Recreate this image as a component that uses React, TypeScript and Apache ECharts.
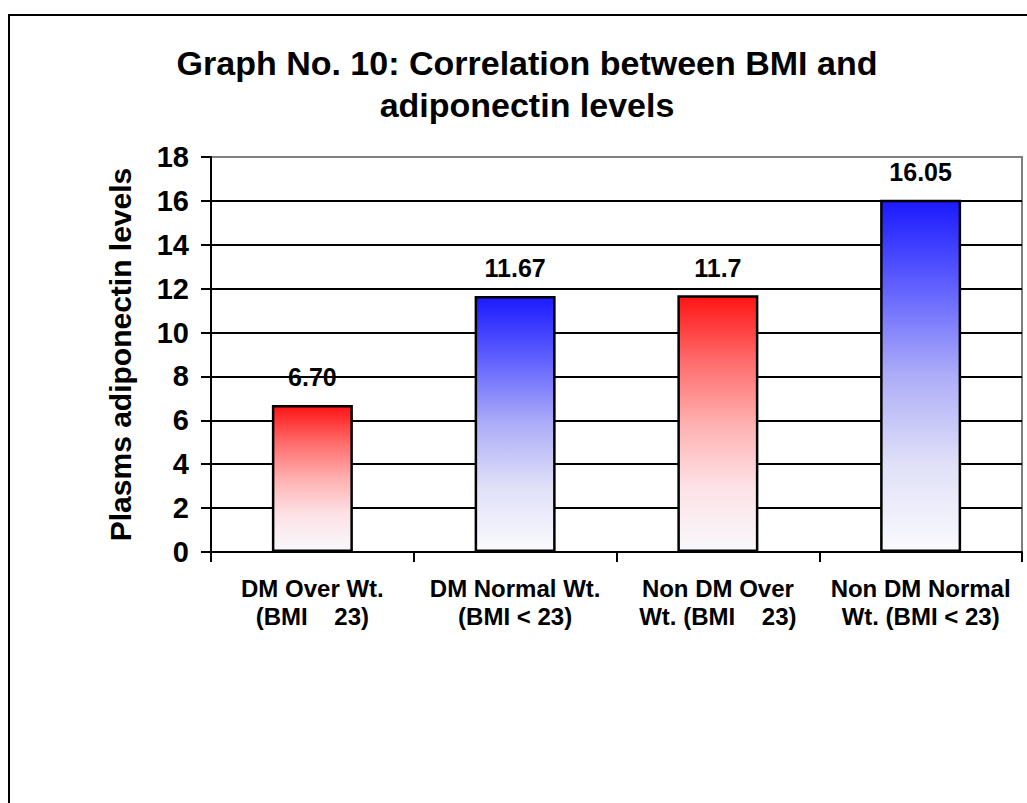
import React, { useEffect, useRef } from "react";
import * as echarts from "echarts";

const TITLE = "Graph No. 10: Correlation between BMI and\nadiponectin levels";
const Y_NAME = "Plasms adiponectin levels";
const categories = [
  "DM Over Wt.\n(BMI    23)",
  "DM Normal Wt.\n(BMI < 23)",
  "Non DM Over\nWt. (BMI    23)",
  "Non DM Normal\nWt. (BMI < 23)",
];
const values = [6.7, 11.67, 11.7, 16.05];
const valueLabels = ["6.70", "11.67", "11.7", "16.05"];
const barKinds = ["red", "blue", "red", "blue"];

const FONT = "'Liberation Sans', Arial, sans-serif";

function gradient(kind: string) {
  const stops =
    kind === "red"
      ? [
          { offset: 0, color: "#ff1414" },
          { offset: 0.25, color: "#ff6a6a" },
          { offset: 0.5, color: "#ffb0b0" },
          { offset: 0.75, color: "#fde2e6" },
          { offset: 1, color: "#f8f8fc" },
        ]
      : [
          { offset: 0, color: "#1a1aff" },
          { offset: 0.25, color: "#6262ff" },
          { offset: 0.5, color: "#adadf8" },
          { offset: 0.75, color: "#e0e0f8" },
          { offset: 1, color: "#fafafe" },
        ];
  return new echarts.graphic.LinearGradient(0, 0, 0, 1, stops);
}

export default function App() {
  const ref = useRef<HTMLDivElement>(null);
  useEffect(() => {
    if (!ref.current) return;
    const chart = echarts.init(ref.current, undefined, { renderer: "svg" });
    const splitColors = Array.from({ length: 10 }, (_, i) => (i === 9 ? "#808080" : "#000000"));
    chart.setOption({
      animation: false,
      backgroundColor: "#ffffff",
      title: {
        text: TITLE,
        left: 522,
        top: 37,
        textAlign: "center",
        textStyle: {
          fontFamily: FONT,
          fontWeight: "bold",
          fontSize: 34,
          lineHeight: 42,
          color: "#000",
        },
      },
      graphic: [
        {
          type: "rect",
          shape: { x: 9, y: 15, width: 1100, height: 1000 },
          style: { fill: "none", stroke: "#000", lineWidth: 2 },
          silent: true,
        },
      ],
      grid: {
        left: 211,
        right: 5,
        top: 157,
        bottom: 251,
        show: true,
        borderColor: "#808080",
        borderWidth: 2,
        backgroundColor: "transparent",
      },
      xAxis: {
        type: "category",
        data: categories,
        axisLine: { lineStyle: { color: "#000", width: 2 } },
        axisTick: { show: true, length: 10, lineStyle: { color: "#000", width: 2 } },
        axisLabel: {
          interval: 0,
          margin: 22,
          fontFamily: FONT,
          fontWeight: "bold",
          fontSize: 24,
          lineHeight: 28,
          color: "#000",
        },
      },
      yAxis: {
        type: "value",
        min: 0,
        max: 18,
        interval: 2,
        name: Y_NAME,
        nameLocation: "middle",
        nameGap: 76,
        nameTextStyle: {
          fontFamily: FONT,
          fontWeight: "bold",
          fontSize: 30,
          color: "#000",
        },
        axisLine: { show: true, lineStyle: { color: "#000", width: 2 } },
        axisTick: { show: true, length: 10, lineStyle: { color: "#000", width: 2 } },
        axisLabel: {
          margin: 22,
          fontFamily: FONT,
          fontWeight: "bold",
          fontSize: 29,
          color: "#000",
        },
        splitLine: { show: true, lineStyle: { color: splitColors, width: 2 } },
      },
      series: [
        {
          type: "bar",
          barWidth: 81,
          data: values.map((v, i) => ({
            value: v,
            itemStyle: {
              color: gradient(barKinds[i]),
              borderColor: "#000",
              borderWidth: 2.5,
            },
            label: {
              show: true,
              position: "top",
              distance: 15,
              formatter: valueLabels[i],
              fontFamily: FONT,
              fontWeight: "bold",
              fontSize: 25,
              color: "#000",
            },
          })),
        },
      ],
    });
    return () => chart.dispose();
  }, []);
  return (
    <div
      ref={ref}
      style={{ position: "fixed", left: 0, top: 0, width: 1027, height: 803 }}
    />
  );
}
